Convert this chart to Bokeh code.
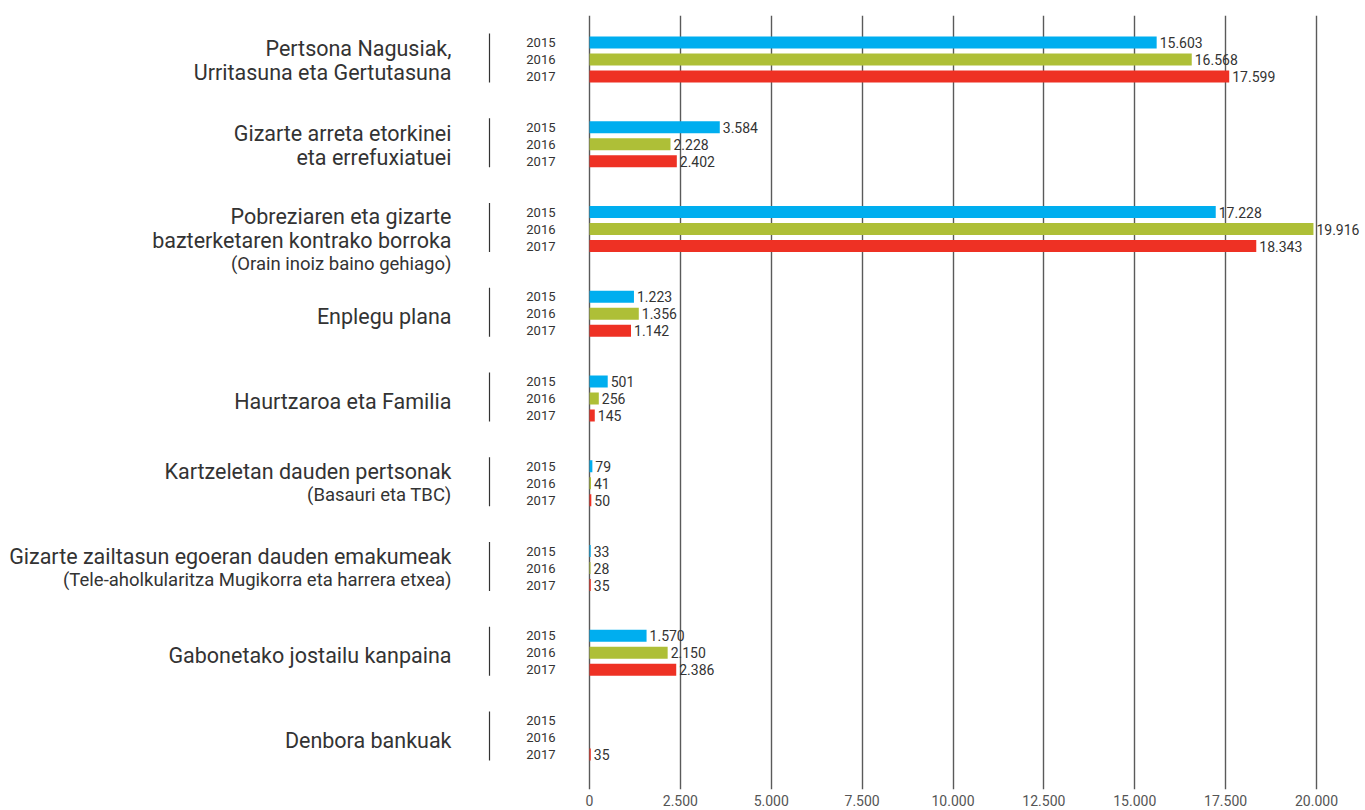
import math
from bokeh.plotting import figure
from bokeh.models import ColumnDataSource, Range1d, FixedTicker
from bokeh.core.properties import value
from bokeh.embed import file_html
from bokeh.resources import INLINE

# ---------------- data ----------------
CATEGORY_LINES = [
    ["Pertsona Nagusiak,", "Urritasuna eta Gertutasuna"],
    ["Gizarte arreta etorkinei", "eta errefuxiatuei"],
    ["Pobreziaren eta gizarte", "bazterketaren kontrako borroka"],
    ["Enplegu plana"],
    ["Haurtzaroa eta Familia"],
    ["Kartzeletan dauden pertsonak"],
    ["Gizarte zailtasun egoeran dauden emakumeak"],
    ["Gabonetako jostailu kanpaina"],
    ["Denbora bankuak"],
]
CATEGORY_SUBTITLES = [None, None, "(Orain inoiz baino gehiago)", None, None,
                      "(Basauri eta TBC)",
                      "(Tele-aholkularitza Mugikorra eta harrera etxea)", None, None]
YEARS = ["2015", "2016", "2017"]
NAN = float("nan")
V2015 = [15603, 3584, 17228, 1223, 501, 79, 33, 1570, NAN]
V2016 = [16568, 2228, 19916, 1356, 256, 41, 28, 2150, NAN]
V2017 = [17599, 2402, 18343, 1142, 145, 50, 35, 2386, 35]
TICKS = [0, 2500, 5000, 7500, 10000, 12500, 15000, 17500, 20000]
COLORS = ["#00AEEF", "#AEBF37", "#EE3124"]

# ---------------- layout constants ----------------
W, H = 1365, 810
GROUP_PX = 84.75          # pixels per group step
YEAR_PX = 17.0            # pixels between year bars
BAR_PX = 12.0
ZERO_PX = 589.0           # x pixel of value 0 inside the figure
FULL_PX = 1316.0          # x pixel of value 20000 inside the figure
PX_PER_UNIT = (FULL_PX - ZERO_PX) / 20000.0
X_START = -ZERO_PX / PX_PER_UNIT
X_END = (W - ZERO_PX) / PX_PER_UNIT
TOP_BORDER, BOTTOM_BORDER = 15, 21
FIRST_CENTER_PX = 59.0    # first group centre, from figure top
Y_TOP = (FIRST_CENTER_PX - TOP_BORDER) / GROUP_PX
Y_BOTTOM = (FIRST_CENTER_PX - (H - BOTTOM_BORDER)) / GROUP_PX

def fmt(v):
    return f"{int(v):,}".replace(",", ".")

p = figure(width=W, height=H, output_backend="svg", toolbar_location=None,
           x_range=Range1d(X_START, X_END), y_range=Range1d(Y_BOTTOM, Y_TOP),
           y_axis_location=None, min_border_left=0, min_border_right=0,
           min_border_top=TOP_BORDER, min_border_bottom=BOTTOM_BORDER)
p.outline_line_color = None
p.background_fill_color = "white"
p.border_fill_color = "white"
p.ygrid.visible = False
p.xgrid.ticker = FixedTicker(ticks=TICKS)
p.xgrid.grid_line_color = "#5a5a5a"
p.xgrid.grid_line_width = 1.4
p.xaxis.ticker = FixedTicker(ticks=TICKS)
p.xaxis.major_label_overrides = {t: fmt(t) for t in TICKS}
p.xaxis.axis_line_color = None
p.xaxis.major_tick_line_color = None
p.xaxis.minor_tick_line_color = None
p.xaxis.major_tick_out = 0
p.xaxis.major_tick_in = 0
p.xaxis.major_label_standoff = 5
p.xaxis.major_label_text_font = "Roboto"
p.xaxis.major_label_text_font_size = "14px"
p.xaxis.major_label_text_color = "#555555"

n = len(CATEGORY_LINES)
off_unit = YEAR_PX / GROUP_PX
series = [V2015, V2016, V2017]
for j, (yr, vals, col) in enumerate(zip(YEARS, series, COLORS)):
    ys = [-i - (j - 1) * off_unit for i in range(n)]
    src = ColumnDataSource(dict(y=ys, v=vals,
                                lab=["" if math.isnan(v) else fmt(v) for v in vals],
                                vx=[0 if math.isnan(v) else v for v in vals],
                                yr=[yr] * n, zero=[0] * n))
    p.hbar(y="y", left=0, right="v", height=BAR_PX / GROUP_PX, color=col,
           line_color=None, source=src)
    p.text(x="vx", y="y", text="lab", source=src, x_offset=3,
           text_baseline="middle", text_align="left",
           text_font=value("Roboto"), text_font_size="14px", text_color="#333333")
    p.text(x="zero", y="y", text="yr", source=src, x_offset=-34,
           text_baseline="middle", text_align="right",
           text_font=value("Roboto"), text_font_size="13px", text_color="#333333")

# separator lines
SEP_X = -100 / PX_PER_UNIT
sep_half = 24.5 / GROUP_PX
p.segment(x0=[SEP_X] * n, x1=[SEP_X] * n,
          y0=[-i - sep_half + 1.5 / GROUP_PX for i in range(n)],
          y1=[-i + sep_half + 1.5 / GROUP_PX for i in range(n)],
          line_color="#333333", line_width=1.2)

# category labels
main_x, main_y, main_t = [], [], []
sub_x, sub_y, sub_t = [], [], []
LINE_PX = 24.0
for i, (lines, sub) in enumerate(zip(CATEGORY_LINES, CATEGORY_SUBTITLES)):
    all_lines = list(lines) + ([sub] if sub else [])
    m = len(all_lines)
    for k, t in enumerate(all_lines):
        dy_px = (k - (m - 1) / 2) * LINE_PX + (3 if m == 1 else 1)
        if sub and m == 3:
            dy_px += 10
        if sub and m == 2:
            dy_px -= 1
        yv = -i - dy_px / GROUP_PX
        if sub and k == m - 1:
            sub_x.append(0); sub_y.append(yv); sub_t.append(t)
        else:
            main_x.append(0); main_y.append(yv); main_t.append(t)

p.text(x=main_x, y=main_y, text=main_t, x_offset=-138, text_align="right",
       text_baseline="middle", text_font=value("Roboto"), text_font_size="21.5px",
       text_color="#333333")
p.text(x=sub_x, y=sub_y, text=sub_t, x_offset=-138, text_align="right",
       text_baseline="middle", text_font=value("Roboto"), text_font_size="18.5px",
       text_color="#333333")

open("out.html", "w").write(file_html(p, INLINE))
